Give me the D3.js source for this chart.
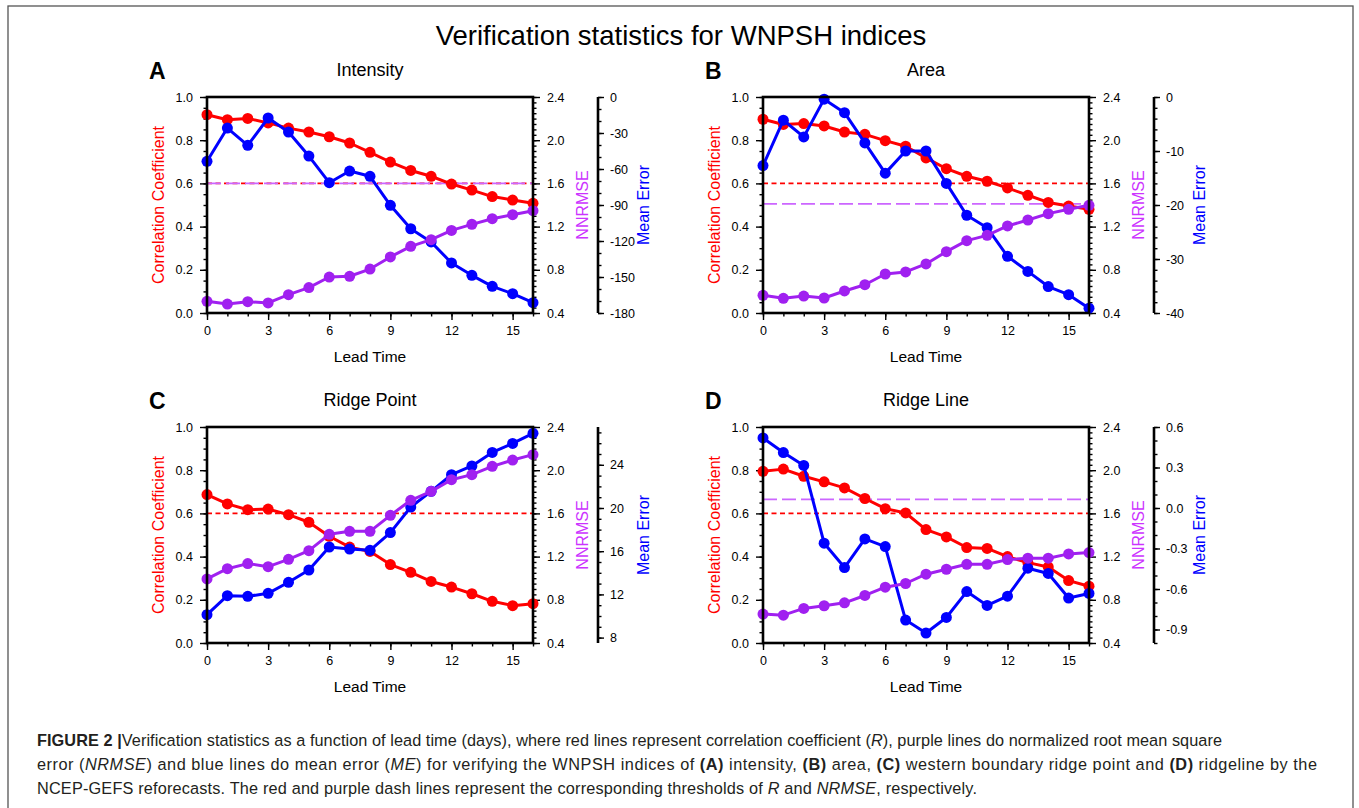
<!DOCTYPE html>
<html>
<head>
<meta charset="utf-8">
<script src="https://cdn.jsdelivr.net/npm/d3@7"></script>
<style>
  body { margin: 0; background: #fff; }
  svg text { font-family: "Liberation Sans", Arial, Helvetica, sans-serif; }
</style>
</head>
<body>
<svg id="fig" width="1359" height="808"></svg>
<script>
// ---- shared axes ----
const leadTimes = [0, 1, 2, 3, 4, 5, 6, 7, 8, 9, 10, 11, 12, 13, 14, 15, 16];
const leadTicks = [0, 3, 6, 9, 12, 15];
const corrTicks = [0.0, 0.2, 0.4, 0.6, 0.8, 1.0];
const nrmseTicks = [0.4, 0.8, 1.2, 1.6, 2.0, 2.4];

// ---- (A) Intensity ----
const intensityR     = [0.918, 0.895, 0.901, 0.880, 0.856, 0.838, 0.816, 0.787, 0.744, 0.699, 0.660, 0.633, 0.597, 0.569, 0.539, 0.523, 0.508];
const intensityNRMSE = [0.508, 0.483, 0.505, 0.493, 0.570, 0.635, 0.733, 0.740, 0.807, 0.919, 1.017, 1.079, 1.165, 1.221, 1.273, 1.310, 1.347];
const intensityME    = [-53.6, -25.9, -40.3, -17.5, -29.2, -49.2, -71.4, -61.7, -66.1, -90.3, -109.8, -120.8, -138.3, -148.6, -157.8, -163.9, -171.4];
const intensityMETicks = [0, -30, -60, -90, -120, -150, -180];

// ---- (B) Area ----
const areaR     = [0.897, 0.873, 0.877, 0.866, 0.838, 0.827, 0.798, 0.772, 0.718, 0.668, 0.633, 0.610, 0.579, 0.545, 0.512, 0.495, 0.480];
const areaNRMSE = [0.564, 0.536, 0.557, 0.539, 0.604, 0.662, 0.761, 0.780, 0.854, 0.968, 1.070, 1.119, 1.206, 1.261, 1.320, 1.360, 1.397];
const areaME    = [-12.7, -4.3, -7.4, -0.4, -2.9, -8.5, -14.1, -10.0, -10.0, -16.0, -21.9, -24.2, -29.5, -32.3, -35.1, -36.6, -39.1];
const areaMETicks = [0, -10, -20, -30, -40];

// ---- (C) Ridge Point ----
const ridgePointR     = [0.687, 0.644, 0.617, 0.620, 0.594, 0.559, 0.494, 0.444, 0.424, 0.363, 0.327, 0.285, 0.259, 0.228, 0.193, 0.173, 0.182];
const ridgePointNRMSE = [0.993, 1.088, 1.135, 1.107, 1.175, 1.255, 1.406, 1.434, 1.434, 1.582, 1.721, 1.804, 1.912, 1.959, 2.036, 2.094, 2.144];
const ridgePointME    = [10.12, 11.88, 11.82, 12.10, 13.12, 14.26, 16.39, 16.20, 16.08, 17.72, 20.09, 21.54, 23.08, 23.89, 25.15, 25.98, 26.91];
const ridgePointMETicks = [8, 12, 16, 20, 24];

// ---- (D) Ridge Line ----
const ridgeLineR     = [0.795, 0.805, 0.772, 0.746, 0.718, 0.669, 0.622, 0.602, 0.525, 0.491, 0.442, 0.438, 0.400, 0.372, 0.352, 0.289, 0.263];
const ridgeLineNRMSE = [0.668, 0.658, 0.720, 0.745, 0.772, 0.840, 0.917, 0.951, 1.037, 1.083, 1.129, 1.129, 1.172, 1.185, 1.185, 1.225, 1.237];
const ridgeLineME    = [0.519, 0.411, 0.315, -0.261, -0.441, -0.229, -0.286, -0.830, -0.926, -0.811, -0.619, -0.722, -0.653, -0.446, -0.485, -0.667, -0.633];
const ridgeLineMETicks = [0.6, 0.3, 0.0, -0.3, -0.6, -0.9];

// thresholds: R for every index, NRMSE per index (null = outside the axis)
const rThreshold = 0.6;
const nrmseThresholds = [1.6, 1.41, null, 1.73];

const panels = [
  { letter: "A", title: "Intensity",   r: intensityR,  nrmse: intensityNRMSE,  me: intensityME,  meDomain: [-180, 0],   meTicks: intensityMETicks,  meMinor: 10,  meFmt: ".0f", nrmseThr: nrmseThresholds[0], x0: 207, y0: 97 },
  { letter: "B", title: "Area",        r: areaR,       nrmse: areaNRMSE,       me: areaME,       meDomain: [-40, 0],    meTicks: areaMETicks,       meMinor: 2,   meFmt: ".0f", nrmseThr: nrmseThresholds[1], x0: 763, y0: 97 },
  { letter: "C", title: "Ridge Point", r: ridgePointR, nrmse: ridgePointNRMSE, me: ridgePointME, meDomain: [7.5, 27.5], meTicks: ridgePointMETicks, meMinor: 1,   meFmt: ".0f", nrmseThr: nrmseThresholds[2], x0: 207, y0: 427 },
  { letter: "D", title: "Ridge Line",  r: ridgeLineR,  nrmse: ridgeLineNRMSE,  me: ridgeLineME,  meDomain: [-1.0, 0.6], meTicks: ridgeLineMETicks,  meMinor: 0.1, meFmt: ".1f", nrmseThr: nrmseThresholds[3], x0: 763, y0: 427 }
];

const W = 326, H = 216;
const RED = "#ff0000", BLUE = "#0000ff", PURPLE = "#a020f0";
const NRMSE_TEXT = "#cc33ff", NRMSE_DASH = "#cc66ff";

const svg = d3.select("#fig");

// outer frame
svg.append("rect").attr("x", 8).attr("y", 6).attr("width", 1345).attr("height", 820)
  .attr("fill", "none").attr("stroke", "#555").attr("stroke-width", 1.3);

// figure title
svg.append("text").attr("x", 681).attr("y", 45).attr("text-anchor", "middle")
  .attr("font-size", 27.5).attr("fill", "#000").text("Verification statistics for WNPSH indices");

const fmtSigned = f => v => d3.format(f)(v).replace("\u2212", "-");

function minorValues(domain, step) {
  const lo = Math.min(...domain), hi = Math.max(...domain);
  const out = [];
  const n0 = Math.ceil(lo / step - 1e-9), n1 = Math.floor(hi / step + 1e-9);
  for (let k = n0; k <= n1; k++) out.push(+(k * step).toFixed(6));
  return out;
}

function drawPanel(p) {
  const g = svg.append("g").attr("transform", `translate(${p.x0},${p.y0})`);
  const x = d3.scaleLinear().domain([0, 16]).range([0, W]);
  const yL = d3.scaleLinear().domain([0, 1]).range([H, 0]);
  const yR = d3.scaleLinear().domain([0.4, 2.4]).range([H, 0]);
  const yM = d3.scaleLinear().domain(p.meDomain).range([H, 0]);

  // letter + title
  g.append("text").attr("x", -58).attr("y", -18).attr("font-size", 23).attr("font-weight", "bold").text(p.letter);
  g.append("text").attr("x", W / 2).attr("y", -21).attr("text-anchor", "middle").attr("font-size", 18).text(p.title);

  const axisStyle = sel => {
    sel.select(".domain").remove();
    sel.selectAll("line").attr("stroke", "#000").attr("stroke-width", 1.4);
    sel.selectAll("text").attr("font-size", 12.5).attr("fill", "#000")
      .style("font-family", '"Liberation Sans", Arial, sans-serif');
  };

  // left axis (correlation)
  g.append("g").call(d3.axisLeft(yL).tickValues(minorValues([0, 1], 0.05)).tickSize(3.5).tickFormat(""))
    .call(axisStyle);
  g.append("g").call(d3.axisLeft(yL).tickValues(corrTicks).tickSize(7).tickPadding(7).tickFormat(d3.format(".1f")))
    .call(axisStyle);

  // right axis (NNRMSE)
  g.append("g").attr("transform", `translate(${W},0)`)
    .call(d3.axisRight(yR).tickValues(minorValues([0.4, 2.4], 0.05)).tickSize(3.5).tickFormat(""))
    .call(axisStyle);
  g.append("g").attr("transform", `translate(${W},0)`)
    .call(d3.axisRight(yR).tickValues(nrmseTicks).tickSize(7).tickPadding(7).tickFormat(d3.format(".1f")))
    .call(axisStyle);

  // bottom axis (lead time)
  g.append("g").attr("transform", `translate(0,${H})`)
    .call(d3.axisBottom(x).tickValues(leadTimes).tickSize(3.5).tickFormat(""))
    .call(axisStyle);
  g.append("g").attr("transform", `translate(0,${H})`)
    .call(d3.axisBottom(x).tickValues(leadTicks).tickSize(7).tickPadding(6).tickFormat(d3.format("d")))
    .call(axisStyle);

  // third axis (mean error)
  const mx = W + 65;
  const meAxisG = g.append("g").attr("transform", `translate(${mx},0)`);
  meAxisG.append("g").call(d3.axisRight(yM).tickValues(minorValues(p.meDomain, p.meMinor)).tickSize(3.5).tickFormat(""))
    .call(axisStyle);
  meAxisG.append("g").call(d3.axisRight(yM).tickValues(p.meTicks).tickSize(6).tickPadding(6).tickFormat(fmtSigned(p.meFmt)))
    .call(axisStyle);
  meAxisG.append("line").attr("x1", 0).attr("x2", 0).attr("y1", 0).attr("y2", H)
    .attr("stroke", "#000").attr("stroke-width", 2.6);

  // axis titles
  g.append("text").attr("transform", `translate(-49,${H / 2}) rotate(-90)`).attr("text-anchor", "middle")
    .attr("dy", "0.35em").attr("font-size", 16).attr("fill", RED).text("Correlation Coefficient");
  g.append("text").attr("transform", `translate(${W + 49},${H / 2}) rotate(-90)`).attr("text-anchor", "middle")
    .attr("dy", "0.35em").attr("font-size", 16).attr("fill", NRMSE_TEXT).text("NNRMSE");
  g.append("text").attr("transform", `translate(${W + 110},${H / 2}) rotate(-90)`).attr("text-anchor", "middle")
    .attr("dy", "0.35em").attr("font-size", 16).attr("fill", BLUE).text("Mean Error");
  g.append("text").attr("x", W / 2).attr("y", H + 49).attr("text-anchor", "middle")
    .attr("font-size", 15.5).text("Lead Time");

  // threshold lines
  g.append("line").attr("x1", 0).attr("x2", W).attr("y1", yL(rThreshold)).attr("y2", yL(rThreshold))
    .attr("stroke", RED).attr("stroke-width", 1.6).attr("stroke-dasharray", "5,3.5");
  if (p.nrmseThr !== null) {
    g.append("line").attr("x1", 0).attr("x2", W).attr("y1", yR(p.nrmseThr)).attr("y2", yR(p.nrmseThr))
      .attr("stroke", NRMSE_DASH).attr("stroke-width", 1.8).attr("stroke-dasharray", "14,5");
  }

  // series: correlation, mean error, NNRMSE
  const series = [
    { vals: p.r, y: yL, color: RED },
    { vals: p.me, y: yM, color: BLUE },
    { vals: p.nrmse, y: yR, color: PURPLE }
  ];
  series.forEach(s => {
    const pts = leadTimes.map((t, i) => [t, s.vals[i]]);
    const line = d3.line().x(d => x(d[0])).y(d => s.y(d[1]));
    g.append("path").datum(pts).attr("d", line).attr("fill", "none")
      .attr("stroke", s.color).attr("stroke-width", 3).attr("stroke-linejoin", "round");
    g.append("g").selectAll("circle").data(pts).join("circle")
      .attr("cx", d => x(d[0])).attr("cy", d => s.y(d[1])).attr("r", 5.5).attr("fill", s.color);
  });

  // plot frame
  g.append("rect").attr("x", 0).attr("y", 0).attr("width", W).attr("height", H)
    .attr("fill", "none").attr("stroke", "#000").attr("stroke-width", 2.6);
}

panels.forEach(drawPanel);

// caption
const captionLines = [
  [["FIGURE 2 ", "b"], ["|", "b"], ["Verification statistics as a function of lead time (days), where red lines represent correlation coefficient (", ""], ["R", "i"], ["), purple lines do normalized root mean square", ""]],
  [["error (", ""], ["NRMSE", "i"], [") and blue lines do mean error (", ""], ["ME", "i"], [") for verifying the WNPSH indices of ", ""], ["(A)", "b"], [" intensity, ", ""], ["(B)", "b"], [" area, ", ""], ["(C)", "b"], [" western boundary ridge point and ", ""], ["(D)", "b"], [" ridgeline by the", ""]],
  [["NCEP-GEFS reforecasts. The red and purple dash lines represent the corresponding thresholds of ", ""], ["R", "i"], [" and ", ""], ["NRMSE", "i"], [", respectively.", ""]]
];
const capBaselines = [746, 770, 794];
const capWidths = [1185, 1280, 940];
captionLines.forEach((parts, li) => {
  const t = svg.append("text").attr("x", 37).attr("y", capBaselines[li]).attr("font-size", 16.3).attr("fill", "#231f20")
    .attr("xml:space", "preserve").style("white-space", "pre")
    .attr("textLength", capWidths[li]).attr("lengthAdjust", "spacing");
  parts.forEach(([txt, st]) => {
    const ts = t.append("tspan").text(txt);
    if (st === "b") ts.attr("font-weight", "bold");
    if (st === "i") ts.attr("font-style", "italic");
  });
});
</script>
</body>
</html>
